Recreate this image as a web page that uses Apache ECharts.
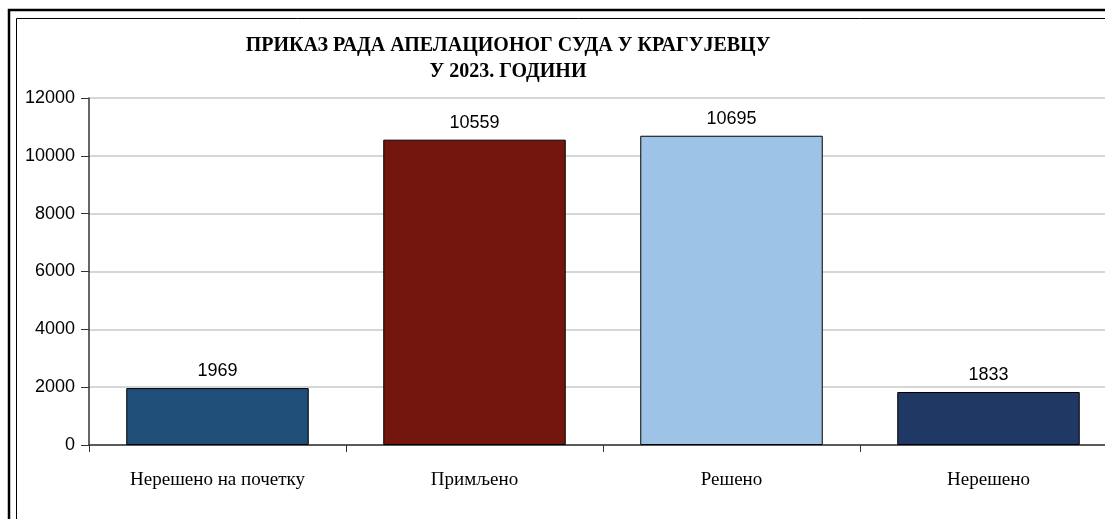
<!DOCTYPE html>
<html><head><meta charset="utf-8">
<script src="https://cdn.jsdelivr.net/npm/echarts@6/dist/echarts.min.js"></script>
<style>html,body{margin:0;padding:0;background:#fff;overflow:hidden}#c{width:1140px;height:519px}</style>
</head><body><div id="c"></div>
<script>
const categories = ['Нерешено на почетку', 'Примљено', 'Решено', 'Нерешено'];
const values = [1969, 10559, 10695, 1833];
const barColors = ['#1F4E79', '#73160D', '#9DC3E6', '#203864'];
const titleLines = ['ПРИКАЗ РАДА АПЕЛАЦИОНОГ СУДА У КРАГУЈЕВЦУ', 'У 2023. ГОДИНИ'];

const chart = echarts.init(document.getElementById('c'), null, {renderer: 'canvas'});
chart.setOption({
  animation: false,
  title: {
    text: titleLines.join('\n'),
    left: 503, top: 28, textAlign: 'center',
    textStyle: {fontFamily: 'Liberation Serif', fontWeight: 'bold', fontSize: 20, color: '#000', lineHeight: 26}
  },
  graphic: [
    {type: 'rect', shape: {x: 9, y: 10, width: 1150, height: 540}, style: {fill: null, stroke: '#000', lineWidth: 2.5}},
    {type: 'rect', shape: {x: 16.5, y: 18.5, width: 1140, height: 530}, style: {fill: null, stroke: '#000', lineWidth: 1}}
  ],
  grid: {left: 89, top: 98, width: 1028, height: 347},
  xAxis: {
    type: 'category', data: categories,
    axisLine: {lineStyle: {color: '#333', width: 1.5}},
    axisTick: {show: true, length: 7, lineStyle: {color: '#333'}},
    axisLabel: {fontFamily: 'Liberation Serif', fontSize: 19, color: '#000', margin: 26}
  },
  yAxis: {
    type: 'value', min: 0, max: 12000, interval: 2000,
    axisLine: {show: true, lineStyle: {color: '#333', width: 1.5}},
    axisTick: {show: true, length: 8, lineStyle: {color: '#333'}},
    axisLabel: {fontFamily: 'Liberation Sans', fontSize: 18, color: '#000', margin: 14, formatter: v => String(v)},
    splitLine: {lineStyle: {color: '#c8c8c8', width: 1.5}}
  },
  series: [{
    type: 'bar',
    data: values.map((v, i) => ({value: v, itemStyle: {color: barColors[i]}})),
    barCategoryGap: '29%',
    itemStyle: {borderColor: '#000', borderWidth: 1},
    label: {show: true, position: 'top', distance: 8, fontFamily: 'Liberation Sans', fontSize: 18, color: '#000'}
  }]
});
</script></body></html>
